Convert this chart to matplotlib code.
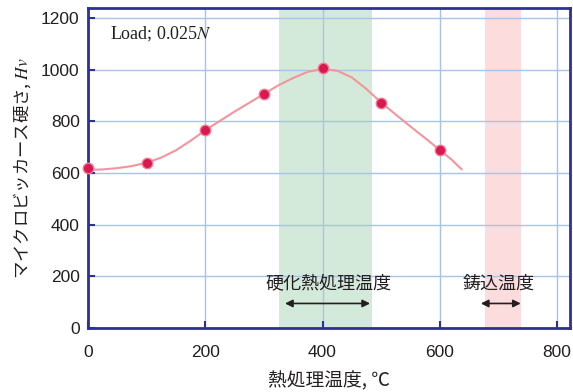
import matplotlib
matplotlib.use("Agg")
import matplotlib.pyplot as plt

plt.rcParams['font.family'] = ['Liberation Sans', 'Noto Sans CJK JP', 'DejaVu Sans']
plt.rcParams['mathtext.fontset'] = 'stix'

# Measured hardness
temps = [0, 100, 200, 300, 400, 500, 600]
hardness = [620, 638, 768, 906, 1005, 873, 690]

# Fitted trend curve
curve_t = [0, 25, 50, 75, 100, 125, 150, 175, 200, 225, 250, 275, 300, 325, 350,
           375, 400, 425, 450, 475, 500, 525, 550, 575, 600, 620, 637]
curve_h = [612, 614, 619, 627, 640, 660, 688, 725, 766, 802, 838, 872, 906, 940, 968,
           992, 1003, 996, 970, 925, 873, 826, 780, 735, 689, 652, 615]

# Temperature ranges
harden_range = (326, 485)
cast_range = (677, 738)
harden_arrow = (336, 481)
cast_arrow = (670, 738)

xticks = [0, 200, 400, 600, 800]
yticks = [0, 200, 400, 600, 800, 1000, 1200]

navy = '#2e3192'
txt = '#231f20'
cjk = ['Noto Sans CJK JP', 'DejaVu Sans']

fig = plt.figure(figsize=(5.73, 3.92), dpi=100)
ax = fig.add_axes([88/573, 1 - 328/392, (570-88)/573, (328-8)/392])

ax.axvspan(*harden_range, color='#d3e9da', lw=0, zorder=0)
ax.axvspan(*cast_range, color='#fcdcdc', lw=0, zorder=0)

ax.set_xlim(0, 822)
ax.set_ylim(0, 1239)
ax.set_xticks(xticks)
ax.set_yticks(yticks)
ax.grid(True, color='#a7c3ea', lw=1.0, zorder=1)
ax.set_axisbelow(True)

ax.plot(curve_t, curve_h, color='#f4959c', lw=1.5, zorder=3, clip_on=False)
ax.plot(temps, hardness, 'o', ms=7.5, mfc='#d8184e', mec='#f07a95', mew=1.0,
        zorder=4, clip_on=False)

for s in ax.spines.values():
    s.set_color(navy)
    s.set_linewidth(2.0)
ax.tick_params(direction='in', length=5, width=1.5, color=navy,
               labelsize=12.5, labelcolor=txt)
ax.tick_params(axis='y', pad=6)
ax.tick_params(axis='x', pad=12)

ax.set_xlabel('熱処理温度, ℃', fontsize=13.5, color=txt, labelpad=8, family=cjk)
ax.set_ylabel('マイクロビッカース硬さ, $Hv$', fontsize=12.5, color=txt, labelpad=6,
              family=cjk)

ax.text(37, 1138, 'Load; 0.025$N$', fontsize=13, color=txt, va='center', ha='left',
        family='Liberation Serif')

ax.text(sum(harden_arrow)/2 + 2, 172, '硬化熱処理温度', fontsize=13, color=txt,
        ha='center', va='center', family=cjk)
ax.text(sum(cast_arrow)/2 - 3, 172, '鋳込温度', fontsize=13, color=txt,
        ha='center', va='center', family=cjk)

arrow_kw = dict(arrowstyle='<|-|>', color=txt, lw=1.2, mutation_scale=11,
                shrinkA=0, shrinkB=0)
ax.annotate('', xy=(harden_arrow[1], 95), xytext=(harden_arrow[0], 95), arrowprops=arrow_kw)
ax.annotate('', xy=(cast_arrow[1], 95), xytext=(cast_arrow[0], 95), arrowprops=arrow_kw)

fig.savefig('out.png', dpi=100)
